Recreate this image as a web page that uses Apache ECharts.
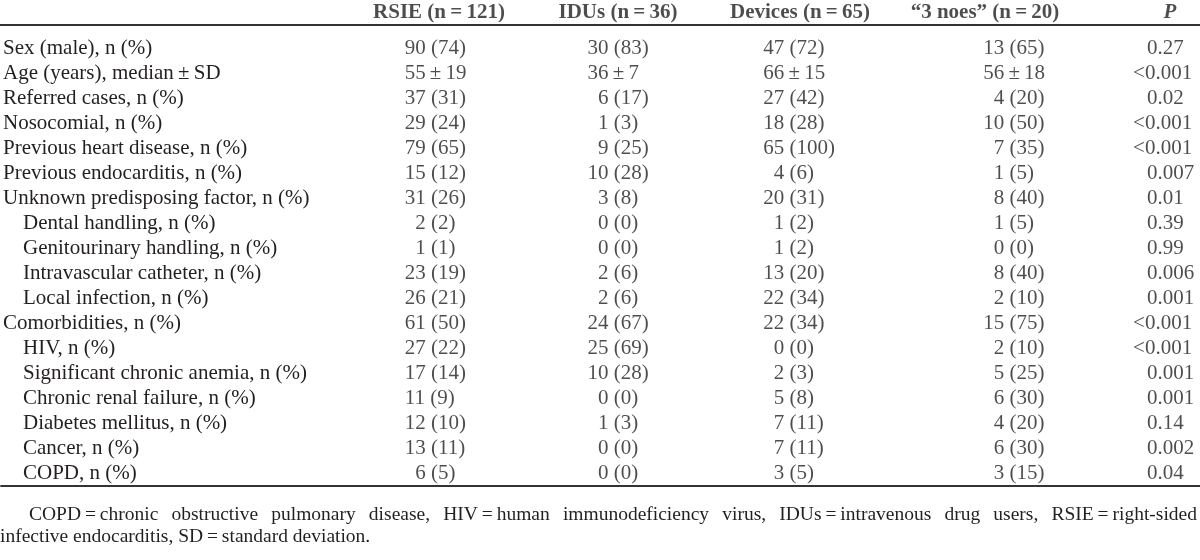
<!DOCTYPE html>
<html><head><meta charset="utf-8">
<style>html,body{margin:0;padding:0;background:#fff}#c{width:1200px;height:560px}</style>
<script src="https://cdn.jsdelivr.net/npm/echarts@6.0.0/dist/echarts.min.js"></script>
</head><body><div id="c"></div><script>
// ---- data ----
const headers = ['RSIE (n\u2009=\u2009121)', 'IDUs (n\u2009=\u200936)', 'Devices (n\u2009=\u200965)', '\u201C3 noes\u201D (n\u2009=\u200920)', 'P'];
const rowLabels = ['Sex (male), n (%)', 'Age (years), median\u2009\u00B1\u2009SD', 'Referred cases, n (%)', 'Nosocomial, n (%)',
  'Previous heart disease, n (%)', 'Previous endocarditis, n (%)', 'Unknown predisposing factor, n (%)',
  'Dental handling, n (%)', 'Genitourinary handling, n (%)', 'Intravascular catheter, n (%)', 'Local infection, n (%)',
  'Comorbidities, n (%)', 'HIV, n (%)', 'Significant chronic anemia, n (%)', 'Chronic renal failure, n (%)',
  'Diabetes mellitus, n (%)', 'Cancer, n (%)', 'COPD, n (%)'];
const indentedRows = [7, 8, 9, 10, 12, 13, 14, 15, 16, 17];
const rsie = ['90 (74)', '55\u2009\u00B1\u200919', '37 (31)', '29 (24)', '79 (65)', '15 (12)', '31 (26)', '2 (2)', '1 (1)', '23 (19)', '26 (21)', '61 (50)', '27 (22)', '17 (14)', '11 (9)', '12 (10)', '13 (11)', '6 (5)'];
const idus = ['30 (83)', '36\u2009\u00B1\u20097', '6 (17)', '1 (3)', '9 (25)', '10 (28)', '3 (8)', '0 (0)', '0 (0)', '2 (6)', '2 (6)', '24 (67)', '25 (69)', '10 (28)', '0 (0)', '1 (3)', '0 (0)', '0 (0)'];
const devices = ['47 (72)', '66\u2009\u00B1\u200915', '27 (42)', '18 (28)', '65 (100)', '4 (6)', '20 (31)', '1 (2)', '1 (2)', '13 (20)', '22 (34)', '22 (34)', '0 (0)', '2 (3)', '5 (8)', '7 (11)', '7 (11)', '3 (5)'];
const noes = ['13 (65)', '56\u2009\u00B1\u200918', '4 (20)', '10 (50)', '7 (35)', '1 (5)', '8 (40)', '1 (5)', '0 (0)', '8 (40)', '2 (10)', '15 (75)', '2 (10)', '5 (25)', '6 (30)', '4 (20)', '6 (30)', '3 (15)'];
const pValues = ['0.27', '<0.001', '0.02', '<0.001', '<0.001', '0.007', '0.01', '0.39', '0.99', '0.006', '0.001', '<0.001', '<0.001', '0.001', '0.001', '0.14', '0.002', '0.04'];
const footnoteLine1 = 'COPD\u2009=\u2009chronic obstructive pulmonary disease, HIV\u2009=\u2009human immunodeficiency virus, IDUs\u2009=\u2009intravenous drug users, RSIE\u2009=\u2009right-sided';
const footnoteLine2 = 'infective endocarditis, SD\u2009=\u2009standard deviation.';

// ---- layout ----
const FONT = '"Liberation Serif", "Times New Roman", serif';
const FS = 21;
const FN_FS = 19.5;
const DIGIT = FS * 0.5;
const INK = '#231f20';
const headerCenters = [439, 618, 800, 985, 1170];
const colStarts = [404, 587, 763, 983];
const pStart = 1133;
const rowH = 25, firstRow = 48;

const chart = echarts.init(document.getElementById('c'), null, {renderer: 'canvas'});
const base = {fontFamily: FONT, fontSize: FS, color: INK};

function cellSeries(values, x) {
  return {
    type: 'scatter', xAxisIndex: 1, yAxisIndex: 1, symbolSize: 0, silent: true,
    data: values.map((v, i) => ({value: [x, i], txt: v})),
    label: {
      show: true, position: 'right', distance: 0, ...base,
      formatter: p => {
        const s = p.data.txt;
        const m = s.match(/^\d+/)[0];
        return m.length === 1 ? '{pad|' + s + '}' : '{t|' + s + '}';
      },
      rich: {pad: {...base, padding: [0, 0, 0, DIGIT]}, t: {...base}}
    }
  };
}

const mainTop = firstRow - rowH / 2;
const option = {
  animation: false,
  grid: [
    {left: 0, right: 0, top: 0, height: 25},
    {left: 0, right: 0, top: mainTop, height: rowH * rowLabels.length}
  ],
  xAxis: [
    {gridIndex: 0, type: 'value', min: 0, max: 1200, position: 'bottom',
      axisLine: {show: true, onZero: false, lineStyle: {color: '#333', width: 1.8}},
      axisTick: {show: false}, axisLabel: {show: false}, splitLine: {show: false}},
    {gridIndex: 1, type: 'value', min: 0, max: 1200, position: 'bottom',
      axisLine: {show: true, onZero: false, lineStyle: {color: '#333', width: 1.8}},
      axisTick: {show: false}, axisLabel: {show: false}, splitLine: {show: false}}
  ],
  yAxis: [
    {gridIndex: 0, type: 'category', data: ['header'], show: false},
    {gridIndex: 1, type: 'category', data: rowLabels, inverse: true,
      axisLine: {show: false}, axisTick: {show: false}, splitLine: {show: false},
      axisLabel: {inside: true, margin: 2, interval: 0, ...base,
        formatter: (v, i) => indentedRows.includes(i) ? '{ind|' + v + '}' : '{top|' + v + '}',
        rich: {ind: {...base, padding: [0, 0, 0, 20]}, top: {...base}}}}
  ],
  series: [
    {
      type: 'scatter', xAxisIndex: 0, yAxisIndex: 0, symbolSize: 0, silent: true,
      data: headers.map((h, i) => ({value: [headerCenters[i], 0], txt: h})),
      label: {show: true, position: 'inside', ...base, fontWeight: 'bold',
        formatter: p => p.data.txt === 'P' ? '{it|P}' : p.data.txt,
        rich: {it: {...base, fontWeight: 'bold', fontStyle: 'italic'}}}
    },
    cellSeries(rsie, colStarts[0]),
    cellSeries(idus, colStarts[1]),
    cellSeries(devices, colStarts[2]),
    cellSeries(noes, colStarts[3]),
    {
      type: 'scatter', xAxisIndex: 1, yAxisIndex: 1, symbolSize: 0, silent: true,
      data: pValues.map((v, i) => ({value: [pStart, i], txt: v})),
      label: {show: true, position: 'right', distance: 0, ...base,
        formatter: p => {
          const s = p.data.txt;
          return s[0] === '<' ? '{t|' + s + '}' : '{pad|' + s + '}';
        },
        rich: {pad: {...base, padding: [0, 0, 0, 14]}, t: {...base}}}
    }
  ]
};
chart.setOption(option);

// footnote: first line justified between x=29 and x=1197
(function () {
  const ctx = document.createElement('canvas').getContext('2d');
  const font = FN_FS + 'px ' + FONT;
  ctx.font = font;
  const words = footnoteLine1.split(' ');
  const x0 = 29, x1 = 1197, y1 = 515, y2 = 537;
  const wordsW = words.reduce((a, t) => a + ctx.measureText(t).width, 0);
  const gap = (x1 - x0 - wordsW) / (words.length - 1);
  const els = [];
  let x = x0;
  words.forEach(t => {
    els.push({type: 'text', x: x, y: y1, style: {text: t, font: font, fill: INK, textVerticalAlign: 'middle'}});
    x += ctx.measureText(t).width + gap;
  });
  els.push({type: 'text', x: 0, y: y2, style: {text: footnoteLine2, font: font, fill: INK, textVerticalAlign: 'middle'}});
  chart.setOption({graphic: {elements: els}});
})();
</script></body></html>
